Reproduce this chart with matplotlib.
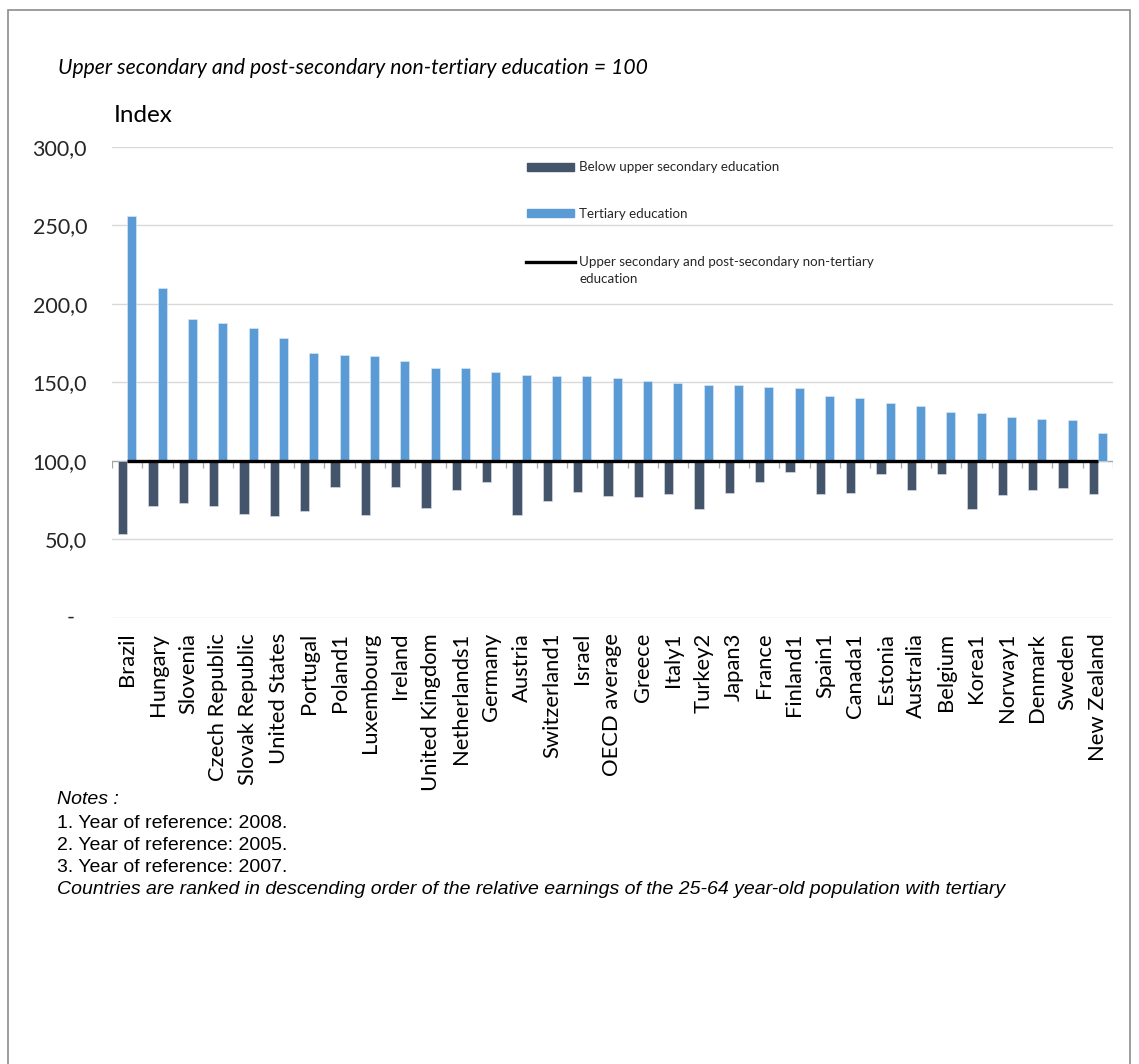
import numpy as np
import matplotlib
matplotlib.use("Agg")
import matplotlib.pyplot as plt
from matplotlib.patches import Rectangle
from matplotlib.lines import Line2D
from matplotlib.ticker import FixedLocator, FuncFormatter

# ---- data ---------------------------------------------------------------
countries = [
    "Brazil", "Hungary", "Slovenia", "Czech Republic", "Slovak Republic",
    "United States", "Portugal", "Poland1", "Luxembourg", "Ireland",
    "United Kingdom", "Netherlands1", "Germany", "Austria", "Switzerland1",
    "Israel", "OECD average", "Greece", "Italy1", "Turkey2", "Japan3",
    "France", "Finland1", "Spain1", "Canada1", "Estonia", "Australia",
    "Belgium", "Korea1", "Norway1", "Denmark", "Sweden", "New Zealand",
]
below_upper_secondary = [
    53.1, 71.1, 72.8, 71.1, 66.0, 64.5, 68.1, 83.2, 65.2, 83.2,
    69.6, 81.1, 86.2, 65.2, 74.1, 80.2, 77.3, 76.6, 78.8, 69.0, 79.4,
    86.2, 93.0, 78.8, 79.4, 91.5, 81.1, 91.5, 69.0, 77.9, 81.1, 82.4, 78.8,
]
tertiary = [
    256.0, 210.1, 190.6, 187.6, 184.4, 178.5, 168.9, 167.2, 166.6, 163.6,
    158.9, 158.9, 156.8, 154.5, 153.8, 153.8, 152.9, 150.8, 149.3, 148.3, 148.3,
    147.0, 146.2, 141.1, 140.2, 136.6, 135.1, 131.3, 130.4, 127.7, 126.8, 126.0, 117.7,
]
upper_secondary = [100.0] * len(countries)
baseline = 100.0
y_ticks = [0, 50, 100, 150, 200, 250, 300]

# ---- style --------------------------------------------------------------
DARK = "#44546A"
LIGHT = "#5B9BD5"
GRID = "#D9D9D9"
AXIS_GREY = "#A6A6A6"
TEXT = "#262626"
FONT = "Lato"

W, H = 1139, 1064
fig = plt.figure(figsize=(W / 100, H / 100), dpi=100)


def fx(px):
    return px / W


def fy(py):
    return 1 - py / H


# outer frame
fig.patches.append(Rectangle((fx(8), fy(1100)), fx(1130) - fx(8), fy(10) - fy(1100),
                             transform=fig.transFigure, fill=False,
                             edgecolor="#8C8C8C", lw=1.2))

ax = fig.add_axes([fx(112), fy(617.5), fx(1113) - fx(112), fy(147) - fy(617.5)])
for s in ax.spines.values():
    s.set_visible(False)

x = np.arange(len(countries))
below = np.array(below_upper_secondary)
tert = np.array(tertiary)
bw = 0.3

ax.set_xlim(-0.5, len(countries) - 0.5)
ax.set_ylim(0, 300)

ax.yaxis.set_major_locator(FixedLocator(y_ticks))
ax.yaxis.set_major_formatter(
    FuncFormatter(lambda v, p: "" if v == 0 else f"{v:.1f}".replace(".", ",")))
ax.yaxis.grid(True, color=GRID, lw=1.0, zorder=0)
ax.set_axisbelow(True)
ax.tick_params(axis="y", length=0, pad=18, labelsize=15.5, labelcolor=TEXT)
for lab in ax.get_yticklabels():
    lab.set_fontfamily(FONT)
ax.text(-0.041, 0, "-", transform=ax.get_yaxis_transform(), ha="center",
        va="center", fontsize=15.5, color=TEXT, family=FONT)

ax.set_xticks(x)
ax.set_xticklabels(countries, rotation=90, fontsize=15.8, family=FONT,
                   color="black", va="top", ha="center")
ax.tick_params(axis="x", length=0, pad=11)

# horizontal category axis crossing at 100, with boundary ticks
ax.axhline(baseline, color=AXIS_GREY, lw=0.9, zorder=1)
yb = baseline / 300
ax.vlines(np.arange(len(countries) + 1) - 0.5, yb - 7 / 470.5, yb,
          transform=ax.get_xaxis_transform(), color=AXIS_GREY, lw=0.9, zorder=1)

ax.bar(x - bw / 2, below - baseline, bottom=baseline, width=bw, color=DARK,
       edgecolor="#DDE3EA", lw=0.4, zorder=2)
ax.bar(x + bw / 2, tert - baseline, bottom=baseline, width=bw, color=LIGHT,
       edgecolor="#DDEBF7", lw=0.4, zorder=2)
ax.plot(x, upper_secondary, color="black", lw=2.4, solid_capstyle="butt", zorder=3)

# legend
leg_font = dict(fontsize=9.6, family=FONT, color=TEXT, va="center", ha="left",
                transform=fig.transFigure)
fig.patches.append(Rectangle((fx(527), fy(171)), fx(574) - fx(527), fy(163) - fy(171),
                             transform=fig.transFigure, color=DARK))
fig.text(fx(579), fy(167), "Below upper secondary education", **leg_font)
fig.patches.append(Rectangle((fx(527), fy(217)), fx(574) - fx(527), fy(209) - fy(217),
                             transform=fig.transFigure, color=LIGHT))
fig.text(fx(579), fy(214), "Tertiary education", **leg_font)
fig.lines.append(Line2D([fx(526), fx(575)], [fy(262), fy(262)],
                        transform=fig.transFigure, color="black", lw=2.4))
fig.text(fx(579), fy(262), "Upper secondary and post-secondary non-tertiary", **leg_font)
fig.text(fx(579), fy(279), "education", **leg_font)

# headings
fig.text(fx(58), fy(68), "Upper secondary and post-secondary non-tertiary education = 100",
         fontsize=15.2, style="italic", family=FONT, color="black", va="center")
fig.text(fx(114), fy(115), "Index", fontsize=17.5, family=FONT, color="black",
         va="center")

# notes
notes_font = dict(fontsize=14, family="Liberation Sans", color="black",
                  va="center", ha="left")
fig.text(fx(57), fy(800), "Notes :", style="italic", **notes_font)
fig.text(fx(57), fy(823), "1. Year of reference: 2008.", **notes_font)
fig.text(fx(57), fy(846), "2. Year of reference: 2005.", **notes_font)
fig.text(fx(57), fy(868), "3. Year of reference: 2007.", **notes_font)
fig.text(fx(57), fy(890),
         "Countries are ranked in descending order of the relative earnings of the "
         "25-64 year-old population with tertiary", style="italic", **notes_font)

fig.savefig("out.png", dpi=100, facecolor="white")
